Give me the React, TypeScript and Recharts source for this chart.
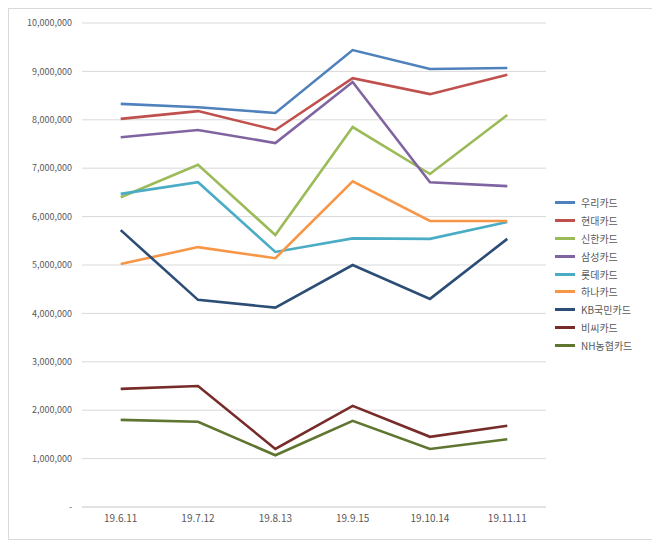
import { LineChart, Line, XAxis, YAxis, CartesianGrid } from 'recharts';

// ── Data ─────────────────────────────────────────────────────────────────────
const DATES = ['19.6.11', '19.7.12', '19.8.13', '19.9.15', '19.10.14', '19.11.11'];

const WOORI   = [8330000, 8260000, 8140000, 9440000, 9050000, 9070000];
const HYUNDAI = [8020000, 8180000, 7790000, 8860000, 8530000, 8930000];
const SHINHAN = [6400000, 7070000, 5620000, 7850000, 6880000, 8100000];
const SAMSUNG = [7640000, 7790000, 7520000, 8780000, 6710000, 6630000];
const LOTTE   = [6470000, 6710000, 5270000, 5550000, 5540000, 5890000];
const HANA    = [5020000, 5370000, 5140000, 6730000, 5910000, 5910000];
const KB      = [5720000, 4280000, 4120000, 5000000, 4300000, 5540000];
const BC      = [2440000, 2500000, 1200000, 2090000, 1450000, 1680000];
const NH      = [1800000, 1760000, 1070000, 1780000, 1200000, 1400000];

const Y_TICKS = [0, 1000000, 2000000, 3000000, 4000000, 5000000, 6000000, 7000000, 8000000, 9000000, 10000000];

const SERIES = [
  { key: 'woori',   name: '우리카드',   values: WOORI,   color: '#4F81BD' },
  { key: 'hyundai', name: '현대카드',   values: HYUNDAI, color: '#C0504D' },
  { key: 'shinhan', name: '신한카드',   values: SHINHAN, color: '#9BBB59' },
  { key: 'samsung', name: '삼성카드',   values: SAMSUNG, color: '#8064A2' },
  { key: 'lotte',   name: '롯데카드',   values: LOTTE,   color: '#4BACC6' },
  { key: 'hana',    name: '하나카드',   values: HANA,    color: '#F79646' },
  { key: 'kb',      name: 'KB국민카드', values: KB,      color: '#2C4D75' },
  { key: 'bc',      name: '비씨카드',   values: BC,      color: '#772C2A' },
  { key: 'nh',      name: 'NH농협카드', values: NH,      color: '#5F7530' },
];

const rows = DATES.map((d, i) => {
  const r: Record<string, string | number> = { date: d };
  SERIES.forEach(s => { r[s.key] = s.values[i]; });
  return r;
});

const FONT = '"Noto Sans CJK KR", "Noto Sans", sans-serif';
const TEXT = '#595959';
const GRID = '#d9d9d9';

const fmt = (v: number) => (v === 0 ? '-' : v.toLocaleString('en-US'));

export default function App() {
  return (
    <div
      style={{
        position: 'relative',
        width: 645,
        height: 530,
        border: `1px solid ${GRID}`,
        fontFamily: FONT,
        background: '#fff',
      }}
    >
      <LineChart
        width={645}
        height={530}
        data={rows}
        margin={{ top: 14, right: 108, bottom: 7, left: 8 }}
      >
        <CartesianGrid vertical={false} stroke={GRID} />
        <XAxis
          dataKey="date"
          axisLine={{ stroke: GRID }}
          tickLine={false}
          tickSize={0}
          tickMargin={8}
          height={25}
          padding={{ left: 38.7, right: 38.7 }}
          tick={{ fill: TEXT, fontSize: 10, fontFamily: FONT }}
        />
        <YAxis
          domain={[0, 10000000]}
          ticks={Y_TICKS}
          interval={0}
          width={65}
          axisLine={false}
          tickLine={false}
          tickSize={0}
          tickMargin={10}
          tickFormatter={fmt}
          tick={{ fill: TEXT, fontSize: 9, fontFamily: FONT }}
        />
        {SERIES.map(s => (
          <Line
            key={s.key}
            dataKey={s.key}
            name={s.name}
            stroke={s.color}
            strokeWidth={2.6}
            dot={false}
            activeDot={false}
            isAnimationActive={false}
          />
        ))}
      </LineChart>

      <div style={{ position: 'absolute', left: 546, top: 185 }}>
        {SERIES.map(s => (
          <div
            key={s.key}
            style={{ display: 'flex', alignItems: 'center', height: 17.8, fontSize: 10, color: TEXT }}
          >
            <span style={{ display: 'inline-block', width: 20, height: 3, background: s.color, marginRight: 6 }} />
            <span>{s.name}</span>
          </div>
        ))}
      </div>
    </div>
  );
}
